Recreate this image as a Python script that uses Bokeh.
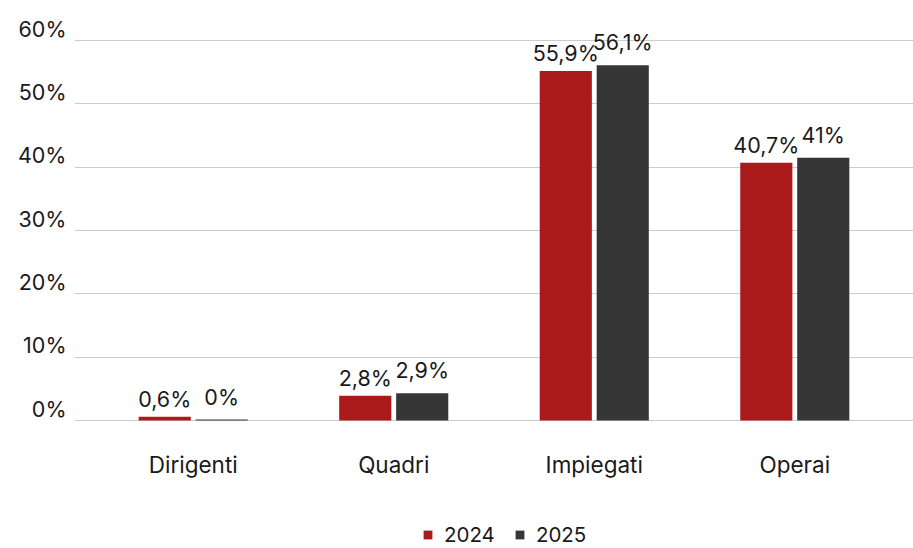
import numpy as np
from bokeh.plotting import figure
from bokeh.models import (Range1d, LinearAxis, FixedTicker, PrintfTickFormatter,
                          Legend, LegendItem)
from bokeh.core.properties import value
from bokeh.embed import file_html
from bokeh.resources import INLINE

# ---- data ----
categories = ["Dirigenti", "Quadri", "Impiegati", "Operai"]
years = ["2024", "2025"]
bars_2024 = [0.6, 3.9, 55.2, 40.7]      # bar heights as drawn (%)
bars_2025 = [0.15, 4.3, 56.1, 41.5]
labels_2024 = ["0,6%", "2,8%", "55,9%", "40,7%"]
labels_2025 = ["0%", "2,9%", "56,1%", "41%"]
y_ticks = [0, 10, 20, 30, 40, 50, 60]

RED = "#AB1A1A"
DARK = "#363636"
TXT = "#1a1a1a"
FONT = "Inter"

idx = np.arange(len(categories))
dodge = 0.142
bar_w = 0.26
y0, y1 = -20.21, 64.74

p = figure(width=913, height=548, output_backend="svg", toolbar_location=None,
           x_range=Range1d(-0.592, 3.592), y_range=Range1d(y0, y1),
           x_axis_location=None, y_axis_location=None,
           min_border_top=10, min_border_bottom=0,
           min_border_left=74, min_border_right=0)
p.outline_line_color = None
p.background_fill_color = "white"
p.border_fill_color = "white"

# label axis slightly shifted so tick labels sit above their gridlines
shift = 1.89
p.extra_y_ranges = {"lab": Range1d(y0 - shift, y1 - shift)}
yax = LinearAxis(y_range_name="lab", ticker=FixedTicker(ticks=y_ticks),
                 formatter=PrintfTickFormatter(format="%d%%"))
yax.axis_line_color = None
yax.major_tick_line_color = None
yax.minor_tick_line_color = None
yax.major_tick_out = 0
yax.major_tick_in = 0
yax.major_label_standoff = 8
yax.major_label_text_font = FONT
yax.major_label_text_font_size = "21.5px"
yax.major_label_text_color = TXT
p.add_layout(yax, "left")

p.ygrid.ticker = FixedTicker(ticks=y_ticks)
p.ygrid.grid_line_color = "#cccccc"
p.ygrid.grid_line_width = 1
p.xgrid.grid_line_color = None

r1 = p.vbar(x=idx - dodge, top=bars_2024, width=bar_w, bottom=0,
            fill_color=RED, line_color=None)
r2 = p.vbar(x=idx + dodge, top=bars_2025, width=bar_w, bottom=0,
            fill_color=DARK, line_color=None)

# value labels above the bars
p.text(x=idx - dodge, y=bars_2024, text=labels_2024, text_align="center",
       text_baseline="alphabetic", y_offset=-18, text_font=value(FONT),
       text_font_size="21.5px", text_color=TXT)
p.text(x=idx + dodge, y=bars_2025, text=labels_2025, text_align="center",
       text_baseline="alphabetic", y_offset=-23, text_font=value(FONT),
       text_font_size="21.5px", text_color=TXT)

# category labels under the zero line
p.text(x=idx, y=np.zeros(len(categories)), text=categories, text_align="center",
       text_baseline="middle", y_offset=44, text_font=value(FONT),
       text_font_size="22.5px", text_color=TXT)

legend = Legend(items=[LegendItem(label=years[0], renderers=[r1]),
                       LegendItem(label=years[1], renderers=[r2])],
                orientation="horizontal", location=(348, 1))
legend.glyph_width = 11
legend.glyph_height = 11
legend.label_standoff = 11
legend.spacing = 19
legend.padding = 0
legend.margin = 0
legend.border_line_color = None
legend.background_fill_alpha = 0
legend.label_text_font = FONT
legend.label_text_font_size = "20.5px"
legend.label_text_color = TXT
p.add_layout(legend, "center")

open("out.html", "w").write(file_html(p, INLINE))
